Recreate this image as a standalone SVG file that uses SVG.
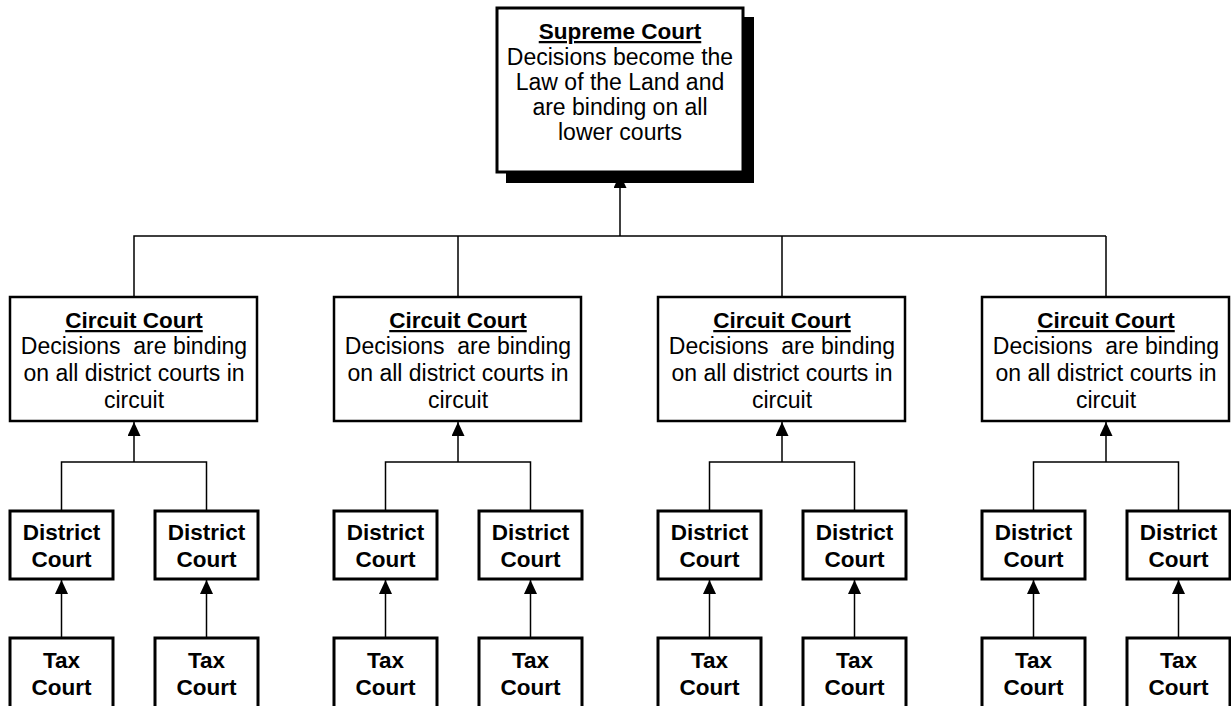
<svg xmlns="http://www.w3.org/2000/svg" width="1231" height="706" viewBox="0 0 1231 706">
<style>
text{font-family:"Liberation Sans",Arial,sans-serif;font-size:23px;fill:#000;text-anchor:middle;white-space:pre}
.b{font-weight:bold;font-size:22.5px}
.u{font-weight:bold;font-size:22.5px;text-decoration:underline}
.box{fill:#fff;stroke:#000;stroke-width:2.5}
.sm{stroke-width:3}
.con{fill:none;stroke:#000;stroke-width:1.5}
</style>
<defs>
<marker id="ah" markerUnits="userSpaceOnUse" markerWidth="14" markerHeight="13" viewBox="0 0 14 13" refX="14" refY="6.5" orient="auto">
<path d="M0,0 L14,6.5 L0,13 z" fill="#000"/>
</marker>
</defs>
<rect width="1231" height="706" fill="#fff"/>
<g id="connectors" class="con">
<path class="con" d="M134 296 V236 H1106 M458 236 V296 M782 236 V296 M1106 236 V296"/>
<path class="con" d="M620 236 V174" marker-end="url(#ah)"/>
<path class="con" d="M61.5 510 V462 H206.5 V510"/>
<path class="con" d="M385.5 510 V462 H530.5 V510"/>
<path class="con" d="M709.5 510 V462 H854.5 V510"/>
<path class="con" d="M1033.5 510 V462 H1178.5 V510"/>
<path class="con" d="M134 462 V422" marker-end="url(#ah)"/>
<path class="con" d="M458 462 V422" marker-end="url(#ah)"/>
<path class="con" d="M782 462 V422" marker-end="url(#ah)"/>
<path class="con" d="M1106 462 V422" marker-end="url(#ah)"/>
<path class="con" d="M61.5 637 V580" marker-end="url(#ah)"/>
<path class="con" d="M206.5 637 V580" marker-end="url(#ah)"/>
<path class="con" d="M385.5 637 V580" marker-end="url(#ah)"/>
<path class="con" d="M530.5 637 V580" marker-end="url(#ah)"/>
<path class="con" d="M709.5 637 V580" marker-end="url(#ah)"/>
<path class="con" d="M854.5 637 V580" marker-end="url(#ah)"/>
<path class="con" d="M1033.5 637 V580" marker-end="url(#ah)"/>
<path class="con" d="M1178.5 637 V580" marker-end="url(#ah)"/>
</g>
<g id="supreme">
<rect x="506" y="17" width="248" height="166" fill="#000"/>
<rect class="box sm" x="497" y="8" width="246" height="164"/>
<text class="u" x="620" y="39">Supreme Court</text>
<text x="620" y="65">Decisions become the</text>
<text x="620" y="90">Law of the Land and</text>
<text x="620" y="115">are binding on all</text>
<text x="620" y="140">lower courts</text>
</g>
<g id="circuit1">
<rect class="box" x="10" y="297" width="247" height="124"/>
<text class="u" x="134" y="328">Circuit Court</text>
<text x="134" y="354" xml:space="preserve">Decisions  are binding</text>
<text x="134" y="381">on all district courts in</text>
<text x="134" y="408">circuit</text>
</g>
<g id="circuit2">
<rect class="box" x="334" y="297" width="247" height="124"/>
<text class="u" x="458" y="328">Circuit Court</text>
<text x="458" y="354" xml:space="preserve">Decisions  are binding</text>
<text x="458" y="381">on all district courts in</text>
<text x="458" y="408">circuit</text>
</g>
<g id="circuit3">
<rect class="box" x="658" y="297" width="247" height="124"/>
<text class="u" x="782" y="328">Circuit Court</text>
<text x="782" y="354" xml:space="preserve">Decisions  are binding</text>
<text x="782" y="381">on all district courts in</text>
<text x="782" y="408">circuit</text>
</g>
<g id="circuit4">
<rect class="box" x="982" y="297" width="247" height="124"/>
<text class="u" x="1106" y="328">Circuit Court</text>
<text x="1106" y="354" xml:space="preserve">Decisions  are binding</text>
<text x="1106" y="381">on all district courts in</text>
<text x="1106" y="408">circuit</text>
</g>
<g id="district1a"><rect class="box sm" x="10" y="511" width="103" height="68"/><text class="b" x="61.5" y="540">District</text><text class="b" x="61.5" y="567">Court</text></g>
<g id="district1b"><rect class="box sm" x="155" y="511" width="103" height="68"/><text class="b" x="206.5" y="540">District</text><text class="b" x="206.5" y="567">Court</text></g>
<g id="district2a"><rect class="box sm" x="334" y="511" width="103" height="68"/><text class="b" x="385.5" y="540">District</text><text class="b" x="385.5" y="567">Court</text></g>
<g id="district2b"><rect class="box sm" x="479" y="511" width="103" height="68"/><text class="b" x="530.5" y="540">District</text><text class="b" x="530.5" y="567">Court</text></g>
<g id="district3a"><rect class="box sm" x="658" y="511" width="103" height="68"/><text class="b" x="709.5" y="540">District</text><text class="b" x="709.5" y="567">Court</text></g>
<g id="district3b"><rect class="box sm" x="803" y="511" width="103" height="68"/><text class="b" x="854.5" y="540">District</text><text class="b" x="854.5" y="567">Court</text></g>
<g id="district4a"><rect class="box sm" x="982" y="511" width="103" height="68"/><text class="b" x="1033.5" y="540">District</text><text class="b" x="1033.5" y="567">Court</text></g>
<g id="district4b"><rect class="box sm" x="1127" y="511" width="103" height="68"/><text class="b" x="1178.5" y="540">District</text><text class="b" x="1178.5" y="567">Court</text></g>
<g id="tax1a"><rect class="box sm" x="10" y="638" width="103" height="80"/><text class="b" x="61.5" y="668">Tax</text><text class="b" x="61.5" y="695">Court</text></g>
<g id="tax1b"><rect class="box sm" x="155" y="638" width="103" height="80"/><text class="b" x="206.5" y="668">Tax</text><text class="b" x="206.5" y="695">Court</text></g>
<g id="tax2a"><rect class="box sm" x="334" y="638" width="103" height="80"/><text class="b" x="385.5" y="668">Tax</text><text class="b" x="385.5" y="695">Court</text></g>
<g id="tax2b"><rect class="box sm" x="479" y="638" width="103" height="80"/><text class="b" x="530.5" y="668">Tax</text><text class="b" x="530.5" y="695">Court</text></g>
<g id="tax3a"><rect class="box sm" x="658" y="638" width="103" height="80"/><text class="b" x="709.5" y="668">Tax</text><text class="b" x="709.5" y="695">Court</text></g>
<g id="tax3b"><rect class="box sm" x="803" y="638" width="103" height="80"/><text class="b" x="854.5" y="668">Tax</text><text class="b" x="854.5" y="695">Court</text></g>
<g id="tax4a"><rect class="box sm" x="982" y="638" width="103" height="80"/><text class="b" x="1033.5" y="668">Tax</text><text class="b" x="1033.5" y="695">Court</text></g>
<g id="tax4b"><rect class="box sm" x="1127" y="638" width="103" height="80"/><text class="b" x="1178.5" y="668">Tax</text><text class="b" x="1178.5" y="695">Court</text></g>
</svg>
